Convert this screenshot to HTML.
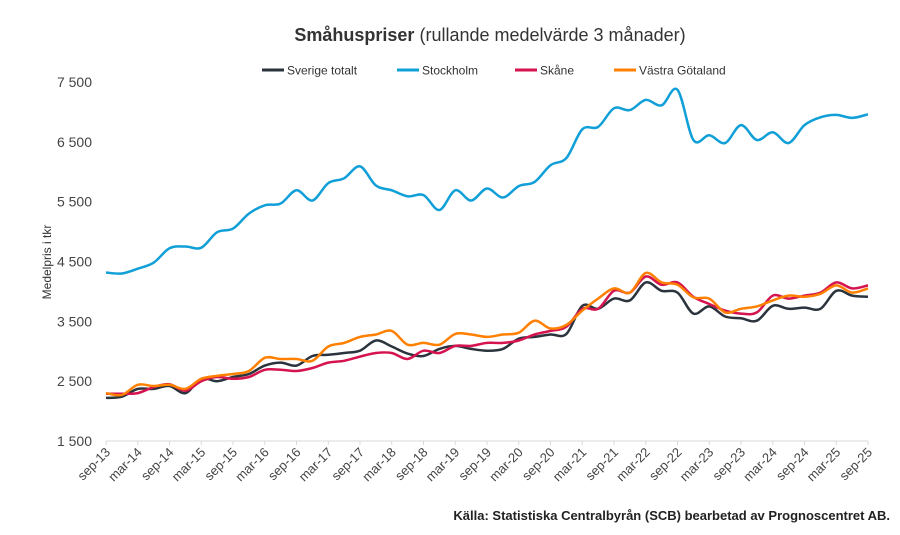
<!DOCTYPE html>
<html><head><meta charset="utf-8"><style>
body{margin:0;background:#fff;font-family:"Liberation Sans",Arial,sans-serif}
svg text{font-family:"Liberation Sans",Arial,sans-serif}
</style></head><body>
<svg id="chart" width="900" height="530" xmlns="http://www.w3.org/2000/svg">
<text x="490" y="41" text-anchor="middle" font-size="18" fill="#333"><tspan font-weight="bold">Småhuspriser</tspan> (rullande medelvärde 3 månader)</text>
<g id="legend"></g>
<text transform="translate(51,262) rotate(-90)" text-anchor="middle" font-size="12" fill="#333">Medelpris i tkr</text>
<g id="yaxis"></g>
<g id="xaxis"></g>
<g id="series"></g>
<text x="890" y="520" text-anchor="end" font-size="13" font-weight="bold" fill="#222">Källa: Statistiska Centralbyrån (SCB) bearbetad av Prognoscentret AB.</text>
</svg>
<script>
const xLabels=["sep-13","mar-14","sep-14","mar-15","sep-15","mar-16","sep-16","mar-17","sep-17","mar-18","sep-18","mar-19","sep-19","mar-20","sep-20","mar-21","sep-21","mar-22","sep-22","mar-23","sep-23","mar-24","sep-24","mar-25","sep-25"];
const yTicks=[1500,2500,3500,4500,5500,6500,7500];
const yTickLabels=["1 500","2 500","3 500","4 500","5 500","6 500","7 500"];
const seriesNames=["Sverige totalt","Stockholm","Skåne","Västra Götaland"];
const sverige=[2220,2240,2370,2370,2420,2300,2540,2500,2570,2620,2760,2810,2760,2920,2940,2970,3010,3180,3080,2960,2920,3040,3090,3040,3010,3040,3210,3240,3280,3290,3760,3710,3880,3850,4150,4010,3980,3630,3750,3580,3550,3510,3760,3710,3730,3710,4010,3930,3910];
const stockholm=[4316,4300,4380,4480,4720,4750,4730,4990,5050,5300,5440,5470,5690,5520,5810,5890,6090,5770,5690,5590,5610,5360,5690,5520,5720,5570,5760,5830,6110,6230,6710,6750,7060,7030,7200,7110,7370,6530,6610,6480,6780,6530,6660,6480,6780,6910,6950,6900,6960];
const skane=[2290,2290,2300,2400,2450,2340,2500,2570,2540,2570,2690,2690,2670,2720,2810,2840,2910,2970,2970,2870,3010,2970,3090,3090,3140,3140,3180,3280,3340,3410,3710,3710,4010,3980,4250,4110,4150,3910,3790,3680,3630,3650,3930,3880,3930,3980,4150,4050,4100];
const vgotaland=[2300,2270,2440,2420,2440,2370,2540,2590,2620,2670,2890,2870,2870,2840,3080,3140,3240,3280,3340,3110,3140,3110,3290,3280,3240,3280,3310,3510,3380,3440,3680,3880,4050,3980,4310,4150,4110,3900,3880,3650,3710,3750,3850,3930,3910,3960,4100,3980,4050];
const colors=["#2b333d","#119fd8","#d5134f","#ff8000"];
const allSeries=[sverige,stockholm,skane,vgotaland];
const seriesKeys=["sverige-line","stockholm-line","skane-line","vastra-gotaland-line"];

const NS="http://www.w3.org/2000/svg";
const X0=106,X1=868,Y0=441,Y1=82,YMIN=1500,YMAX=7500;
const nPts=sverige.length;
function xq(i){return X0+(X1-X0)*i/(nPts-1);}
function xl(i){return X0+(X1-X0)*i/(xLabels.length-1);}
function y(v){return Y0-(v-YMIN)/(YMAX-YMIN)*(Y0-Y1);}
function mk(tag,attrs,parent){const e=document.createElementNS(NS,tag);for(const k in attrs)e.setAttribute(k,attrs[k]);parent.appendChild(e);return e;}

const ya=document.getElementById('yaxis');
yTicks.forEach((v,i)=>{
  const t=mk('text',{x:92,y:y(v)+5,'text-anchor':'end','font-size':14,fill:'#444'},ya);
  
  
  t.textContent=yTickLabels[i];
});
const xa=document.getElementById('xaxis');
const al=mk('line',{x1:X0,x2:X1,y1:Y0,y2:Y0,stroke:'#d9d9d9','stroke-width':1},xa);


xLabels.forEach((l,i)=>{
  const xx=xl(i);
  const tk=mk('line',{x1:xx,x2:xx,y1:Y0,y2:Y0+4,stroke:'#d9d9d9'},xa);
  
  
  const t=mk('text',{transform:`translate(${xx+5},${Y0+12}) rotate(-45)`,'text-anchor':'end','font-size':13,fill:'#444'},xa);
  
  
  t.textContent=l;
});

function smooth(pts){
  let d=`M${pts[0][0]},${pts[0][1]}`;
  for(let i=0;i<pts.length-1;i++){
    const p0=pts[i-1]||pts[i],p1=pts[i],p2=pts[i+1],p3=pts[i+2]||p2;
    const c1=[p1[0]+(p2[0]-p0[0])/6,p1[1]+(p2[1]-p0[1])/6];
    const c2=[p2[0]-(p3[0]-p1[0])/6,p2[1]-(p3[1]-p1[1])/6];
    d+=` C${c1[0].toFixed(1)},${c1[1].toFixed(1)} ${c2[0].toFixed(1)},${c2[1].toFixed(1)} ${p2[0].toFixed(1)},${p2[1].toFixed(1)}`;
  }
  return d;
}
const sg=document.getElementById('series');
[1,0,2,3].forEach(k=>{
  const pts=allSeries[k].map((v,i)=>[xq(i),y(v)]);
  const p=mk('path',{d:smooth(pts),fill:'none',stroke:colors[k],'stroke-width':2.5,'stroke-linejoin':'round'},sg);
  
  
});

const lg=document.getElementById('legend');
const lx=[262,397,515,614];
seriesNames.forEach((n,i)=>{
  const g=mk('g',{},lg);
  
  
  mk('line',{x1:lx[i],x2:lx[i]+22,y1:70,y2:70,stroke:colors[i],'stroke-width':3},g);
  const t=mk('text',{x:lx[i]+25,y:74.5,'font-size':12,fill:'#333'},g);
  t.textContent=n;
});
</script>
</body></html>
